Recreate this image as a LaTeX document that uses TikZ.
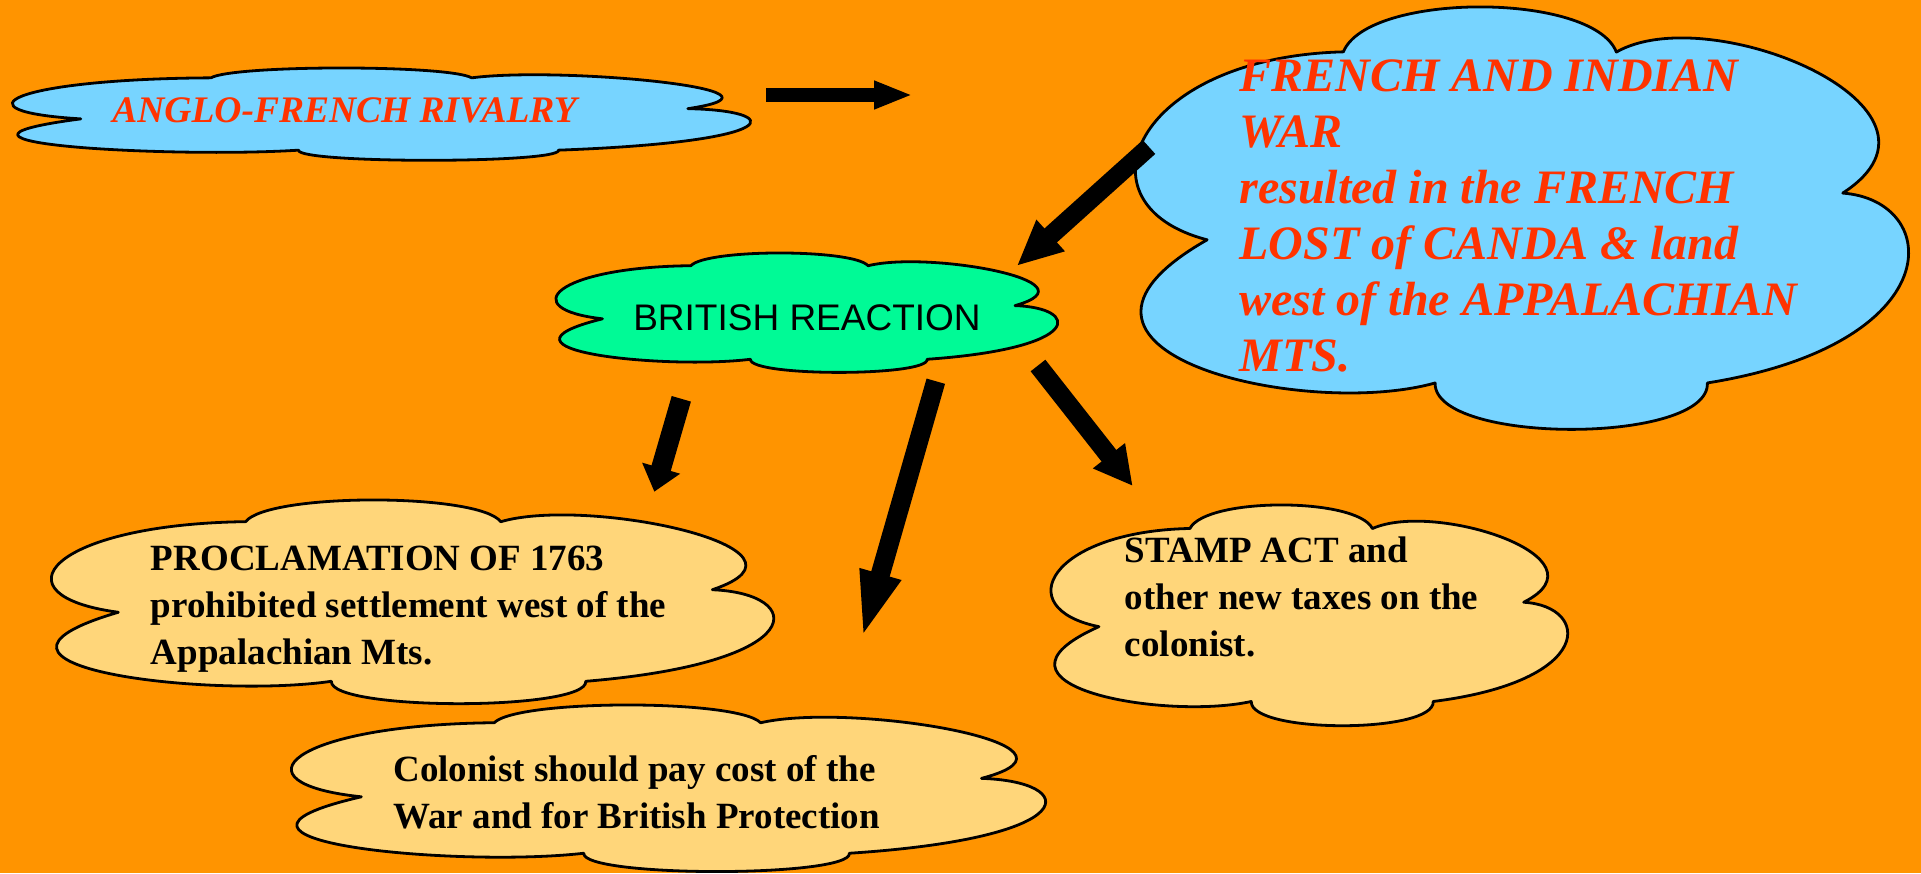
\documentclass[tikz,border=0pt]{standalone}
\usepackage{fontspec}
\setmainfont{Liberation Serif}
\newfontfamily\sansfont{Liberation Sans}
\usetikzlibrary{arrows.meta}
\definecolor{bgorange}{RGB}{255,148,0}
\definecolor{skyblue}{RGB}{119,212,255}
\definecolor{mint}{RGB}{0,250,150}
\definecolor{paleyellow}{RGB}{255,214,122}
\definecolor{redtext}{RGB}{255,51,0}
\tikzset{
  cloudline/.style={draw=black, line width=1.4pt, line join=round},
  redsmall/.style={inner sep=0pt, text=redtext, font=\fontsize{18.75pt}{22pt}\selectfont\bfseries\itshape},
  redbig/.style={inner sep=0pt, text=redtext, font=\fontsize{24pt}{27.95pt}\selectfont\bfseries\itshape},
  blacktext/.style={inner sep=0pt, text=black, font=\fontsize{18.5pt}{23.5pt}\selectfont\bfseries},
  sanstext/.style={inner sep=0pt, text=black, font=\fontsize{18.5pt}{22pt}\selectfont\sansfont},
  blockarrow/.style n args={3}{draw=black, line width=#1, -{Triangle[length=#2, width=#3]}}
}
\newcommand{\cloudat}[5]{%
  \begin{scope}[shift={(#1,#2)},xscale=#3,yscale=#4]
    \draw[cloudline,fill=#5] (0.269,0.107)
      .. controls (0.30,-0.036) and (0.59,-0.036) .. (0.620,0.107)
      .. controls (0.74,-0.02) and (1.08,0.24) .. (0.911,0.442)
      .. controls (1.04,0.46) and (1.05,0.80) .. (0.737,0.893)
      .. controls (0.74,1.04) and (0.385,1.04) .. (0.387,0.893)
      .. controls (0.22,0.98) and (-0.16,0.82) .. (0.094,0.553)
      .. controls (-0.08,0.47) and (0.0,0.12) .. cycle;
  \end{scope}}
\begin{document}
\begin{tikzpicture}[x=0.5pt,y=-0.5pt]
  \fill[bgorange] (0,0) rectangle (1921,873);
  \useasboundingbox (0,0) rectangle (1921,873);

  % clouds
  \cloudat{11}{68}{743}{92}{skyblue}
  \cloudat{1134}{7}{778}{421}{skyblue}
  \cloudat{555}{253}{505}{119}{mint}
  \cloudat{50}{500}{727}{203}{paleyellow}
  \cloudat{290}{705}{759}{166}{paleyellow}
  \cloudat{1050}{505}{520}{220}{paleyellow}

  % texts
  \node[redsmall, anchor=base west] (anglo) at (112,122.7) {ANGLO-FRENCH RIVALRY};
  \node[redbig, anchor=base west] (war) at (1239,91.7) {\begin{tabular}[t]{@{}l@{}}FRENCH AND INDIAN\\WAR\\resulted in the FRENCH\\LOST of CANDA \& land\\west of the APPALACHIAN\\MTS.\end{tabular}};
  \node[sanstext, anchor=base] (british) at (807,330) {BRITISH REACTION};
  \node[blacktext, anchor=base west] (procl) at (150.5,570) {\begin{tabular}[t]{@{}l@{}}PROCLAMATION OF 1763\\prohibited settlement west of the\\Appalachian Mts.\end{tabular}};
  \node[blacktext, anchor=base west] (colon) at (393,781.7) {\begin{tabular}[t]{@{}l@{}}Colonist should pay cost of the\\War and for British Protection\end{tabular}};
  \node[blacktext, anchor=base west] (stamp) at (1124.5,562.7) {\begin{tabular}[t]{@{}l@{}}STAMP ACT and\\other new taxes on the\\colonist.\end{tabular}};

  % arrow end points
  \coordinate (a1s) at (766,95);      \coordinate (a1e) at (912.7,95);
  \coordinate (a2s) at (1149,147);    \coordinate (a2e) at (1016.7,266);
  \coordinate (a3s) at (681.3,398.8); \coordinate (a3e) at (654.3,491.7);
  \coordinate (a4s) at (935.8,381.2); \coordinate (a4e) at (861.7,639.3);
  \coordinate (a5s) at (1038,365.5);  \coordinate (a5e) at (1132.7,486);

  % arrows
  \draw[blockarrow={7pt}{19.35pt}{13pt}] (a1s) -- (a1e);
  \draw[blockarrow={9.35pt}{22.85pt}{19.5pt}] (a2s) -- (a2e);
  \draw[blockarrow={10pt}{12.25pt}{19pt}] (a3s) -- (a3e);
  \draw[blockarrow={9.6pt}{34pt}{18.8pt}] (a4s) -- (a4e);
  \draw[blockarrow={9.35pt}{19.25pt}{19pt}] (a5s) -- (a5e);
\end{tikzpicture}
\end{document}
